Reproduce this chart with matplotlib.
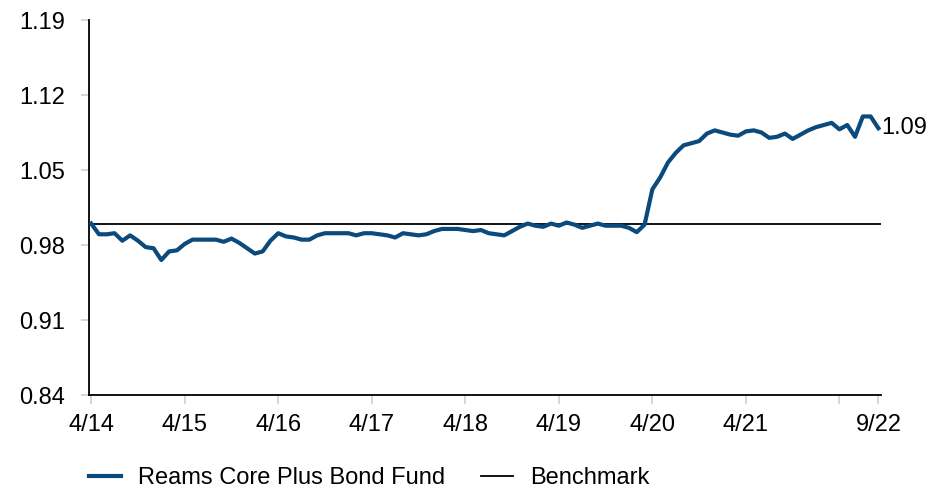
import matplotlib
matplotlib.use("Agg")
import matplotlib.pyplot as plt
from matplotlib.lines import Line2D

plt.rcParams['font.family'] = ['Liberation Sans', 'DejaVu Sans']

fund_values = [
    1.000, 0.990, 0.990, 0.991, 0.984, 0.989, 0.984, 0.978, 0.977, 0.966,
    0.974, 0.975, 0.981, 0.985, 0.985, 0.985, 0.985, 0.983, 0.986, 0.982,
    0.977, 0.972, 0.974, 0.984, 0.991, 0.988, 0.987, 0.985, 0.985, 0.989,
    0.991, 0.991, 0.991, 0.991, 0.989, 0.991, 0.991, 0.990, 0.989, 0.987,
    0.991, 0.990, 0.989, 0.990, 0.993, 0.995, 0.995, 0.995, 0.994, 0.993,
    0.994, 0.991, 0.990, 0.989, 0.993, 0.997, 1.000, 0.998, 0.997, 1.000,
    0.998, 1.001, 0.999, 0.996, 0.998, 1.000, 0.998, 0.998, 0.998, 0.996,
    0.992, 0.999, 1.032, 1.043, 1.057, 1.066, 1.073, 1.075, 1.077, 1.084,
    1.087, 1.085, 1.083, 1.082, 1.086, 1.087, 1.085, 1.080, 1.081, 1.084,
    1.079, 1.083, 1.087, 1.090, 1.092, 1.094, 1.088, 1.092, 1.081, 1.100,
    1.100, 1.089,
]
benchmark_value = 1.0
months = list(range(len(fund_values)))

tick_positions = [0, 12, 24, 36, 48, 60, 72, 84, 96, 101]
tick_labels = ["4/14", "4/15", "4/16", "4/17", "4/18", "4/19", "4/20", "4/21", "", "9/22"]
y_ticks = [0.84, 0.91, 0.98, 1.05, 1.12, 1.19]
end_label = "1.09"

fund_color = "#0b4a7d"
FS = 17

fig = plt.figure(figsize=(9.45, 4.94), dpi=100)
ax = fig.add_axes([0.094, 0.2004, 0.838, 0.7591])

ax.plot(months, fund_values, color=fund_color, lw=3.0, solid_joinstyle='round', zorder=3)
ax.axhline(benchmark_value, color='black', lw=1.3, zorder=2)

ax.set_xlim(-0.3, 101.3)
ax.set_ylim(0.84, 1.19)
ax.set_yticks(y_ticks)
ax.set_yticklabels([f"{v:.2f}" for v in y_ticks])
ax.set_xticks(tick_positions)
ax.set_xticklabels(tick_labels)

for s in ['top', 'right']:
    ax.spines[s].set_visible(False)
for s in ['left', 'bottom']:
    ax.spines[s].set_color('black')
    ax.spines[s].set_linewidth(1.3)

ax.tick_params(axis='both', labelsize=FS, colors='#d0d0d0', labelcolor='black')
ax.tick_params(axis='x', length=6.5, width=1.2, pad=7)
ax.tick_params(axis='y', length=6, width=1.2, pad=11)

ax.text(101 + 0.35, fund_values[-1], end_label, fontsize=FS, va='center', ha='left')

handles = [Line2D([0], [0], color=fund_color, lw=3.0),
           Line2D([0], [0], color='black', lw=1.3)]
fig.legend(handles, ["Reams Core Plus Bond Fund", "Benchmark"],
           loc='center left', bbox_to_anchor=(0.094, 0.032), ncol=2, frameon=False,
           borderpad=0, borderaxespad=0,
           fontsize=FS, handlelength=1.35, columnspacing=1.5, handletextpad=0.75)

fig.savefig("out.png", dpi=100)
